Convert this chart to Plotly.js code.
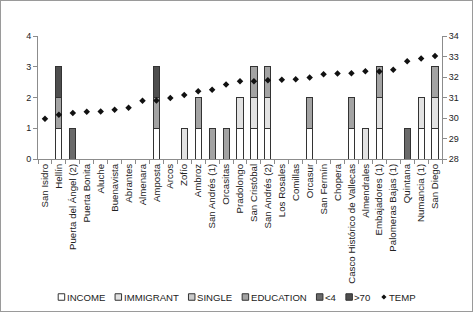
<!DOCTYPE html>
<html>
<head>
<meta charset="utf-8">
<script src="https://cdn.plot.ly/plotly-3.0.1.min.js"></script>
<style>
  html, body { margin: 0; padding: 0; background: #fff; }
  #chart { width: 471px; height: 310px; border: 1px solid #9a9a9a; }
</style>
</head>
<body>
<div id="chart"></div>
<script>
// Neighbourhoods, ordered by temperature
const barrios = [
  "San Isidro", "Hellín", "Puerta del Ángel (2)", "Puerta Bonita", "Aluche",
  "Buenavista", "Abrantes", "Almenara", "Amposta", "Arcos", "Zofío", "Ambroz",
  "San Andrés (1)", "Orcasitas", "Pradolongo", "San Cristóbal", "San Andrés (2)",
  "Los Rosales", "Comillas", "Orcasur", "San Fermín", "Chopera",
  "Casco Histórico de Vallecas", "Almendrales", "Embajadores (1)",
  "Palomeras Bajas (1)", "Quintana", "Numancia (1)", "San Diego"
];

// Vulnerability indicators (1 = present)
const income    = [0,1,0,0,0,0,0,0,1,0,0,1,0,0,1,1,1,0,0,1,0,0,1,0,1,0,0,1,1];
const immigrant = [0,0,0,0,0,0,0,0,0,0,1,0,0,0,1,1,1,0,0,0,0,0,0,1,1,0,0,1,1];
const single    = [0,0,0,0,0,0,0,0,0,0,0,0,0,0,0,0,0,0,0,0,0,0,0,0,0,0,0,0,0];
const education = [0,1,0,0,0,0,0,0,1,0,0,1,1,1,0,1,1,0,0,1,0,0,1,0,1,0,0,0,1];
const under4    = [0,0,1,0,0,0,0,0,0,0,0,0,0,0,0,0,0,0,0,0,0,0,0,0,0,0,1,0,0];
const over70    = [0,1,0,0,0,0,0,0,1,0,0,0,0,0,0,0,0,0,0,0,0,0,0,0,0,0,0,0,0];

// Surface temperature (°C)
const temp = [29.96, 30.16, 30.24, 30.30, 30.32, 30.40, 30.50, 30.84, 30.85,
              30.97, 31.12, 31.30, 31.38, 31.64, 31.79, 31.79, 31.84, 31.87,
              31.89, 31.97, 32.14, 32.17, 32.18, 32.28, 32.27, 32.35, 32.77,
              32.90, 33.03];

const seriesDefs = [
  { name: "INCOME",    values: income,    color: "#ffffff" },
  { name: "IMMIGRANT", values: immigrant, color: "#e2e2e2" },
  { name: "SINGLE",    values: single,    color: "#cacaca" },
  { name: "EDUCATION", values: education, color: "#a3a3a3" },
  { name: "<4",        values: under4,    color: "#6a6a6a" },
  { name: ">70",       values: over70,    color: "#4e4e4e" }
];

const FONT = "Liberation Sans, Arial, sans-serif";
const W = 471, H = 310;
const M = { l: 37, r: 30, t: 35, b: 152 };
const plotW = W - M.l - M.r, plotH = H - M.t - M.b;

const traces = seriesDefs.map(s => ({
  type: "bar",
  name: s.name,
  x: barrios,
  y: s.values.map(v => (v === 0 ? null : v)),
  marker: { color: s.color, line: { color: "#333333", width: 1 } }
}));

traces.push({
  type: "scatter",
  mode: "markers",
  name: "TEMP",
  x: barrios,
  y: temp,
  yaxis: "y2",
  marker: { symbol: "diamond", size: 5, color: "#111111" }
});

// Compact legend row drawn as shapes + annotations along the bottom
const legendFontSize = 9.6;
const measure = (() => {
  const c = document.createElement("canvas").getContext("2d");
  c.font = legendFontSize + "px 'Liberation Sans'";
  return t => c.measureText(t).width;
})();
const legendEntries = seriesDefs.map(s => ({ name: s.name, kind: "box", color: s.color }))
  .concat([{ name: "TEMP", kind: "diamond", color: "#111111" }]);
const box = 6.5, boxGap = 1, itemGap = 11;
const widths = legendEntries.map(e => box + boxGap + measure(e.name));
const total = widths.reduce((a, b) => a + b, 0) + itemGap * (widths.length - 1);
const legendY = 297;                     // page pixel row of the legend
let cursor = (W + 2) / 2 - total / 2;    // centred in the page
const px2x = p => (p - 1 - M.l) / plotW;
const py2y = p => (H - M.b - (p - 1)) / plotH;
const shapes = [], annotations = [];
legendEntries.forEach((e, i) => {
  const x0 = cursor, x1 = cursor + box;
  if (e.kind === "box") {
    shapes.push({
      type: "rect", xref: "paper", yref: "paper",
      x0: px2x(x0), x1: px2x(x1), y0: py2y(legendY + box / 2), y1: py2y(legendY - box / 2),
      fillcolor: e.color, line: { color: "#333333", width: 1 }
    });
  } else {
    const cx = (x0 + x1) / 2, r = 2.6;
    shapes.push({
      type: "path", xref: "paper", yref: "paper",
      path: `M ${px2x(cx)} ${py2y(legendY - r)} L ${px2x(cx + r)} ${py2y(legendY)} ` +
            `L ${px2x(cx)} ${py2y(legendY + r)} L ${px2x(cx - r)} ${py2y(legendY)} Z`,
      fillcolor: e.color, line: { width: 0 }
    });
  }
  annotations.push({
    xref: "paper", yref: "paper", showarrow: false,
    x: px2x(x1 + boxGap), y: py2y(legendY), xanchor: "left", yanchor: "middle",
    text: e.name.replace("<", "&lt;").replace(">", "&gt;"),
    font: { family: FONT, size: legendFontSize, color: "#222" },
    borderpad: 0
  });
  cursor += widths[i] + itemGap;
});

const axisFont = { family: FONT, size: 9, color: "#222" };
const catFont = { family: FONT, size: 9.7, color: "#222" };

const layout = {
  width: W,
  height: H,
  margin: M,
  paper_bgcolor: "#ffffff",
  plot_bgcolor: "#ffffff",
  barmode: "stack",
  bargap: 0.56,
  showlegend: false,
  font: axisFont,
  xaxis: {
    type: "category",
    range: [-0.5, barrios.length - 0.5],
    automargin: false,
    tickangle: -90,
    tickfont: catFont,
    showline: true,
    linecolor: "#8c8c8c",
    linewidth: 1,
    ticks: "outside",
    tickson: "boundaries",
    ticklen: 4,
    tickcolor: "#8c8c8c",
    showgrid: false,
    zeroline: false
  },
  yaxis: {
    automargin: false,
    range: [0, 4],
    dtick: 1,
    tickfont: axisFont,
    showline: true,
    linecolor: "#8c8c8c",
    ticks: "outside",
    ticklen: 4,
    tickcolor: "#8c8c8c",
    showgrid: false,
    zeroline: false
  },
  yaxis2: {
    automargin: false,
    overlaying: "y",
    side: "right",
    range: [28, 34],
    dtick: 1,
    tickfont: axisFont,
    showline: true,
    linecolor: "#8c8c8c",
    ticks: "outside",
    ticklen: 4,
    tickcolor: "#8c8c8c",
    showgrid: false,
    zeroline: false
  },
  shapes: shapes,
  annotations: annotations
};

Plotly.newPlot("chart", traces, layout, { displayModeBar: false, staticPlot: true });
</script>
</body>
</html>
